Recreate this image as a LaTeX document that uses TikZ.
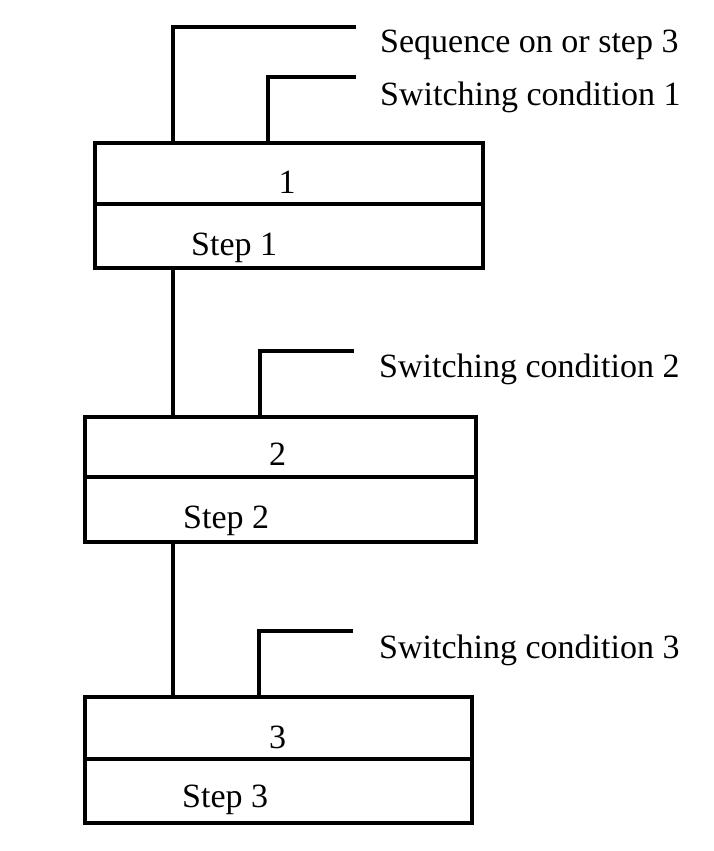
\documentclass[tikz,border=0pt]{standalone}
\usepackage{fontspec}
\setmainfont{Liberation Serif}
\begin{document}
\begin{tikzpicture}[x=1pt,y=-1pt,
  box/.style={draw, line width=3.5pt, rectangle, inner sep=0pt, outer sep=0pt, anchor=north west},
  wire/.style={line width=3.5pt},
  lbl/.style={anchor=base west, inner sep=0pt, font=\fontsize{34}{40}\selectfont},
  num/.style={anchor=base, inner sep=0pt, font=\fontsize{34}{40}\selectfont}]
\useasboundingbox[fill=white] (0,0) rectangle (713,851);
% boxes
\node[box, minimum width=388pt, minimum height=61pt] (b1t) at (95,143) {};
\node[box, minimum width=388pt, minimum height=64pt] (b1b) at (95,204) {};
\node[box, minimum width=391pt, minimum height=60pt] (b2t) at (85,417) {};
\node[box, minimum width=391pt, minimum height=65pt] (b2b) at (85,477) {};
\node[box, minimum width=387pt, minimum height=62pt] (b3t) at (85,697) {};
\node[box, minimum width=387pt, minimum height=64pt] (b3b) at (85,759) {};
% wires
\coordinate (e0) at (356,27); \coordinate (k0) at (173,27);
\draw[wire] (e0) -- (k0) -- (k0 |- b1t.north);
\coordinate (e1) at (356,77); \coordinate (k1) at (268,77);
\draw[wire] (e1) -- (k1) -- (k1 |- b1t.north);
\draw[wire] (k0 |- b1b.south) -- (k0 |- b2t.north);
\coordinate (e2) at (354,351); \coordinate (k2) at (260,351);
\draw[wire] (e2) -- (k2) -- (k2 |- b2t.north);
\draw[wire] (k0 |- b2b.south) -- (k0 |- b3t.north);
\coordinate (e3) at (353,631); \coordinate (k3) at (259,631);
\draw[wire] (e3) -- (k3) -- (k3 |- b3t.north);
% labels
\node[lbl] (t0) at (380,52.7) {Sequence on or step 3};
\node[lbl] (t1) at (380,105) {Switching condition 1};
\node[lbl] (t2) at (379,377) {Switching condition 2};
\node[lbl] (t3) at (379,658) {Switching condition 3};
\node[num] (n1) at (287,193) {1};
\node[lbl] (s1) at (191,255) {Step 1};
\node[num] (n2) at (277.5,465) {2};
\node[lbl] (s2) at (183,528) {Step 2};
\node[num] (n3) at (277.5,748) {3};
\node[lbl] (s3) at (182,807) {Step 3};
\end{tikzpicture}
\end{document}
